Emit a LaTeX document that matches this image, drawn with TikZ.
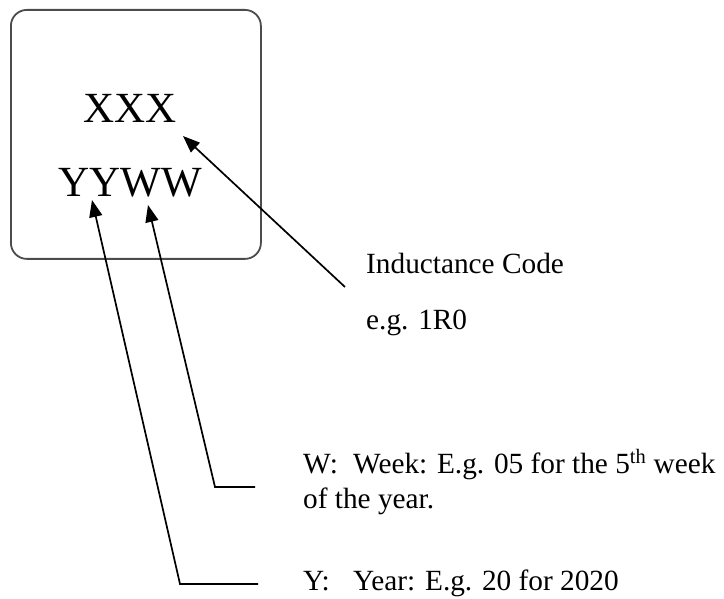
\documentclass[tikz,border=0pt]{standalone}
\usepackage{fontspec}
\setmainfont{Liberation Serif}
\usetikzlibrary{arrows.meta}
\begin{document}
\begin{tikzpicture}[x=1pt,y=-1pt,
  bigtext/.style={inner sep=0pt, font=\fontsize{43}{50}\selectfont, anchor=base},
  smalltext/.style={inner sep=0pt, font=\fontsize{29.3}{34}\selectfont, anchor=base west},
  arr/.style={line width=1.7pt, -{Triangle[length=17pt,width=13pt]}},
  leader/.style={line width=1.7pt}]
\useasboundingbox (0,0) rectangle (724,599);
\node[draw=black!70, line width=1.8pt, rounded corners=16pt, minimum width=250pt, minimum height=249pt, anchor=north west, inner sep=0pt] (chip) at (10,9) {};
\node[bigtext] (xxx) at (130,123) {XXX};
\node[bigtext] (yyww) at (130,197) {YYWW};
\node[smalltext] (ind) at (366,273) {Inductance Code};
\node[smalltext] (eg) at (366,330) {e.g. 1R0};
\node[smalltext] (wlab) at (303,473) {W:};
\node[smalltext] (wtxt) at (353,473) {Week: E.g. 05 for the 5\textsuperscript{th} week};
\node[smalltext] (wtxt2) at (303,508) {of the year.};
\node[smalltext] (ylab) at (303,590) {Y:};
\node[smalltext] (ytxt) at (353,590) {Year: E.g. 20 for 2020};
\coordinate (xtip) at (183,136);
\coordinate (indtail) at (345,287);
\coordinate (wtip) at (148,205);
\coordinate (wbend) at (215,487);
\coordinate (wend) at (255,487);
\coordinate (ytip) at (92,200);
\coordinate (ybend) at (180,584);
\coordinate (yend) at (258,584);
\draw[arr] (indtail) -- (xtip);
\draw[arr] (wend) -- (wbend) -- (wtip);
\draw[arr] (yend) -- (ybend) -- (ytip);
\end{tikzpicture}
\end{document}
